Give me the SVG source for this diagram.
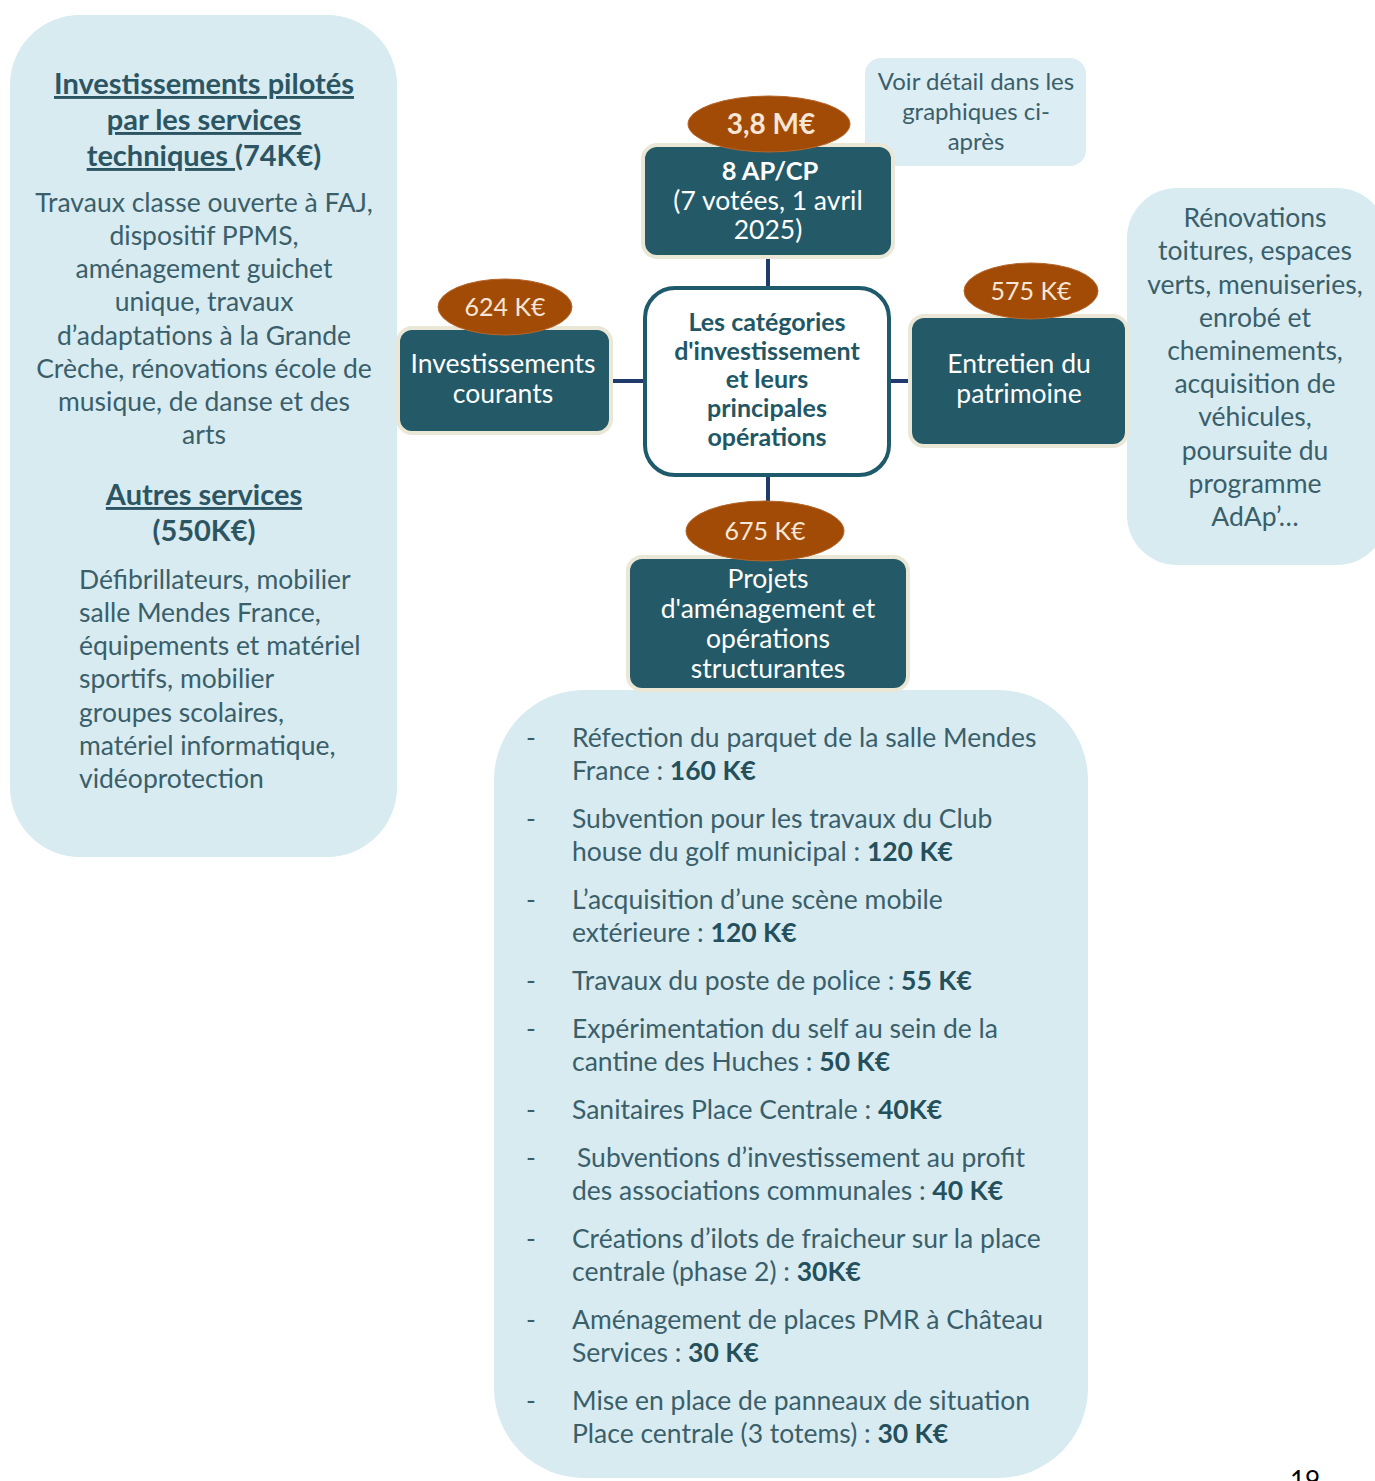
<svg xmlns="http://www.w3.org/2000/svg" width="1375" height="1481" viewBox="0 0 1375 1481">
<defs>
<style>
text{font-family:Lato,"Open Sans","Liberation Sans",sans-serif;}
.panel{fill:#d8ebf1;}
.note{fill:#dcedf3;}
.pt{fill:#3a5f6a;font-size:26.5px;}
.ptc{fill:#3a5f6a;font-size:26.5px;text-anchor:middle;}
.nt{fill:#3a5f6a;font-size:24px;text-anchor:middle;}
.hd{fill:#2c5563;font-size:29px;font-weight:bold;text-anchor:middle;text-decoration:underline;}
.hdn{fill:#2c5563;font-size:29px;font-weight:bold;text-anchor:middle;}
.box{fill:#245a68;stroke:#ebe7d6;stroke-width:4;}
.bt{fill:#ffffff;font-size:26.5px;text-anchor:middle;}
.btb{fill:#ffffff;font-size:25.5px;font-weight:bold;text-anchor:middle;}
.ell{fill:#a24b06;stroke:#b5652a;stroke-width:1;}
.et{fill:#f6e6d6;font-size:25px;text-anchor:middle;}
.etb{fill:#f6e6d6;font-size:28px;font-weight:bold;text-anchor:middle;}
.ctr{fill:#ffffff;stroke:#1e5a6b;stroke-width:4;}
.ct{fill:#215765;font-size:25px;font-weight:bold;text-anchor:middle;}
.conn{stroke:#1f3b6b;stroke-width:4;fill:none;}
.b{font-weight:bold;fill:#24505c;}
</style>
</defs>

<g id="panel-left">
<rect class="panel" x="10" y="15" width="387" height="842" rx="70" ry="70"/>
<text class="hd" x="204" y="94">Investissements pilotés</text>
<text class="hd" x="204" y="130">par les services</text>
<text class="hdn" x="204" y="166"><tspan text-decoration="underline">techniques </tspan>(74K€)</text>
<text class="ptc" x="204" y="212">Travaux classe ouverte à FAJ,</text>
<text class="ptc" x="204" y="245">dispositif PPMS,</text>
<text class="ptc" x="204" y="278">aménagement guichet</text>
<text class="ptc" x="204" y="311">unique, travaux</text>
<text class="ptc" x="204" y="345">d’adaptations à la Grande</text>
<text class="ptc" x="204" y="378">Crèche, rénovations école de</text>
<text class="ptc" x="204" y="411">musique, de danse et des</text>
<text class="ptc" x="204" y="444">arts</text>
<text class="hd" x="204" y="505">Autres services</text>
<text class="hdn" x="204" y="541">(550K€)</text>
<text class="pt" x="79" y="589">Défibrillateurs, mobilier</text>
<text class="pt" x="79" y="622">salle Mendes France,</text>
<text class="pt" x="79" y="655">équipements et matériel</text>
<text class="pt" x="79" y="688">sportifs, mobilier</text>
<text class="pt" x="79" y="722">groupes scolaires,</text>
<text class="pt" x="79" y="755">matériel informatique,</text>
<text class="pt" x="79" y="788">vidéoprotection</text>
</g>

<g id="panel-right">
<rect class="panel" x="1127" y="188" width="260" height="377" rx="50" ry="50"/>
<text class="ptc" x="1255" y="227">Rénovations</text>
<text class="ptc" x="1255" y="260">toitures, espaces</text>
<text class="ptc" x="1255" y="294">verts, menuiseries,</text>
<text class="ptc" x="1255" y="327">enrobé et</text>
<text class="ptc" x="1255" y="360">cheminements,</text>
<text class="ptc" x="1255" y="393">acquisition de</text>
<text class="ptc" x="1255" y="426">véhicules,</text>
<text class="ptc" x="1255" y="460">poursuite du</text>
<text class="ptc" x="1255" y="493">programme</text>
<text class="ptc" x="1255" y="526">AdAp’…</text>
</g>

<g id="panel-bottom">
<rect class="panel" x="494" y="690" width="594" height="788" rx="90" ry="90"/>
<text class="pt" x="526" y="747">-</text><text class="pt" x="572" y="747">Réfection du parquet de la salle Mendes</text>
<text class="pt" x="572" y="780">France : <tspan class="b">160 K€</tspan></text>
<text class="pt" x="526" y="828">-</text><text class="pt" x="572" y="828">Subvention pour les travaux du Club</text>
<text class="pt" x="572" y="861">house du golf municipal : <tspan class="b">120 K€</tspan></text>
<text class="pt" x="526" y="909">-</text><text class="pt" x="572" y="909">L’acquisition d’une scène mobile</text>
<text class="pt" x="572" y="942">extérieure : <tspan class="b">120 K€</tspan></text>
<text class="pt" x="526" y="990">-</text><text class="pt" x="572" y="990">Travaux du poste de police : <tspan class="b">55 K€</tspan></text>
<text class="pt" x="526" y="1038">-</text><text class="pt" x="572" y="1038">Expérimentation du self au sein de la</text>
<text class="pt" x="572" y="1071">cantine des Huches : <tspan class="b">50 K€</tspan></text>
<text class="pt" x="526" y="1119">-</text><text class="pt" x="572" y="1119">Sanitaires Place Centrale : <tspan class="b">40K€</tspan></text>
<text class="pt" x="526" y="1167">-</text><text class="pt" x="577" y="1167">Subventions d’investissement au profit</text>
<text class="pt" x="572" y="1200">des associations communales : <tspan class="b">40 K€</tspan></text>
<text class="pt" x="526" y="1248">-</text><text class="pt" x="572" y="1248">Créations d’ilots de fraicheur sur la place</text>
<text class="pt" x="572" y="1281">centrale (phase 2) : <tspan class="b">30K€</tspan></text>
<text class="pt" x="526" y="1329">-</text><text class="pt" x="572" y="1329">Aménagement de places PMR à Château</text>
<text class="pt" x="572" y="1362">Services : <tspan class="b">30 K€</tspan></text>
<text class="pt" x="526" y="1410">-</text><text class="pt" x="572" y="1410">Mise en place de panneaux de situation</text>
<text class="pt" x="572" y="1443">Place centrale (3 totems) : <tspan class="b">30 K€</tspan></text>
</g>

<g id="connectors">
<line class="conn" x1="768" y1="257" x2="768" y2="289"/>
<line class="conn" x1="768" y1="474" x2="768" y2="502"/>
<line class="conn" x1="611" y1="381" x2="646" y2="381"/>
<line class="conn" x1="888" y1="381" x2="910" y2="381"/>
</g>

<g id="node-note">
<rect class="note" x="865" y="58" width="221" height="108" rx="16" ry="16"/>
<text class="nt" x="976" y="90">Voir détail dans les</text>
<text class="nt" x="976" y="120">graphiques ci-</text>
<text class="nt" x="976" y="150">après</text>
</g>

<g id="node-apcp">
<rect class="box" x="643" y="145" width="250" height="112" rx="14" ry="14"/>
<text class="btb" x="770" y="180">8 AP/CP</text>
<text class="bt" x="768" y="210">(7 votées, 1 avril</text>
<text class="bt" x="768" y="239">2025)</text>
</g>
<g id="badge-apcp">
<ellipse class="ell" cx="769" cy="124" rx="81" ry="28"/>
<text class="etb" x="771" y="134">3,8 M€</text>
</g>

<g id="node-center">
<rect class="ctr" x="645" y="288" width="244" height="187" rx="30" ry="30"/>
<text class="ct" x="767" y="331">Les catégories</text>
<text class="ct" x="767" y="360">d'investissement</text>
<text class="ct" x="767" y="388">et leurs</text>
<text class="ct" x="767" y="417">principales</text>
<text class="ct" x="767" y="446">opérations</text>
</g>

<g id="node-courants">
<rect class="box" x="398" y="328" width="213" height="105" rx="14" ry="14"/>
<text class="bt" x="503" y="373">Investissements</text>
<text class="bt" x="503" y="403">courants</text>
</g>
<g id="badge-courants">
<ellipse class="ell" cx="505" cy="307" rx="67" ry="28"/>
<text class="et" x="505" y="316">624 K€</text>
</g>

<g id="node-patrimoine">
<rect class="box" x="910" y="316" width="217" height="130" rx="14" ry="14"/>
<text class="bt" x="1019" y="373">Entretien du</text>
<text class="bt" x="1019" y="403">patrimoine</text>
</g>
<g id="badge-patrimoine">
<ellipse class="ell" cx="1031" cy="291" rx="67" ry="28"/>
<text class="et" x="1031" y="300">575 K€</text>
</g>

<g id="node-projets">
<rect class="box" x="628" y="557" width="280" height="133" rx="14" ry="14"/>
<text class="bt" x="768" y="588">Projets</text>
<text class="bt" x="768" y="618">d'aménagement et</text>
<text class="bt" x="768" y="648">opérations</text>
<text class="bt" x="768" y="678">structurantes</text>
</g>
<g id="badge-projets">
<ellipse class="ell" cx="765" cy="531" rx="79" ry="30"/>
<text class="et" x="765" y="540">675 K€</text>
</g>

<text x="1305" y="1490" font-family="'Liberation Sans',Arial,sans-serif" font-size="26" text-anchor="middle" fill="#000">19</text>
</svg>
